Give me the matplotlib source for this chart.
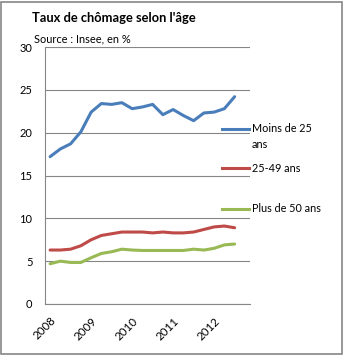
import matplotlib
matplotlib.use('Agg')
from matplotlib import pyplot as plt
from matplotlib.patches import Rectangle
from matplotlib.lines import Line2D

plt.rcParams['font.family'] = ['Lato', 'DejaVu Sans']

years = ['2008', '2009', '2010', '2011', '2012']
moins_25 = [17.2, 18.1, 18.7, 20.1, 22.4, 23.4, 23.3, 23.5, 22.8, 23.0,
            23.3, 22.1, 22.7, 22.0, 21.4, 22.3, 22.4, 22.8, 24.2]
age_25_49 = [6.3, 6.3, 6.4, 6.8, 7.5, 8.0, 8.2, 8.4, 8.4, 8.4,
             8.3, 8.4, 8.3, 8.3, 8.4, 8.7, 9.0, 9.1, 8.9]
plus_50 = [4.7, 5.0, 4.85, 4.85, 5.4, 5.9, 6.1, 6.4, 6.3, 6.25,
           6.25, 6.25, 6.25, 6.25, 6.4, 6.3, 6.5, 6.9, 7.0]
series = [('Moins de 25\nans', moins_25, '#4A7EBB'),
          ('25-49 ans', age_25_49, '#BE4B48'),
          ('Plus de 50 ans', plus_50, '#98B954')]

W, H = 343, 355
fig = plt.figure(figsize=(W / 100, H / 100), dpi=100)
fig.patches.append(Rectangle((0.004, 0.004), 0.992, 0.99, transform=fig.transFigure,
                             fill=False, edgecolor='#868686', linewidth=1.2))
ax = fig.add_axes([45 / W, 1 - 304 / H, 205 / W, 257 / H])

x = list(range(len(moins_25)))
for label, vals, col in series:
    ax.plot(x, vals, color=col, linewidth=2.2, label=label, solid_capstyle='round')

ax.set_ylim(0, 30)
ax.set_yticks(range(0, 31, 5))
ax.set_xlim(-0.5, 19.5)
ax.set_xticks([0, 4, 8, 12, 16])
ax.set_xticklabels(years, rotation=45, ha='right', rotation_mode='anchor')
ax.tick_params(axis='y', length=0, labelsize=8, pad=9)
ax.tick_params(axis='x', length=0, labelsize=8.3, pad=8)
ax.yaxis.grid(True, color='#868686', linewidth=0.8)
ax.set_axisbelow(True)
for s in ['top', 'right']:
    ax.spines[s].set_visible(False)
for s in ['left', 'bottom']:
    ax.spines[s].set_color('#868686')

# legend, Excel-style on the right
leg_y = [129, 168, 209]
for (label, vals, col), ly in zip(series, leg_y):
    fig.add_artist(Line2D([222 / W, 249 / W], [1 - ly / H, 1 - ly / H],
                          transform=fig.transFigure, color=col, linewidth=2.2))
    if '\n' in label:
        first, second = label.split('\n')
        fig.text(252 / W, 1 - ly / H, first, fontsize=7.8, va='center')
        fig.text(252 / W, 1 - (ly + 15) / H, second, fontsize=7.8, va='center')
    else:
        fig.text(252 / W, 1 - ly / H, label, fontsize=7.8, va='center')

fig.text(32 / W, 1 - 22 / H, "Taux de chômage selon l'âge", fontsize=9.3, fontweight='bold')
fig.text(34 / W, 1 - 42 / H, "Source : Insee, en %", fontsize=7.9)

fig.savefig('out.png', dpi=100)
